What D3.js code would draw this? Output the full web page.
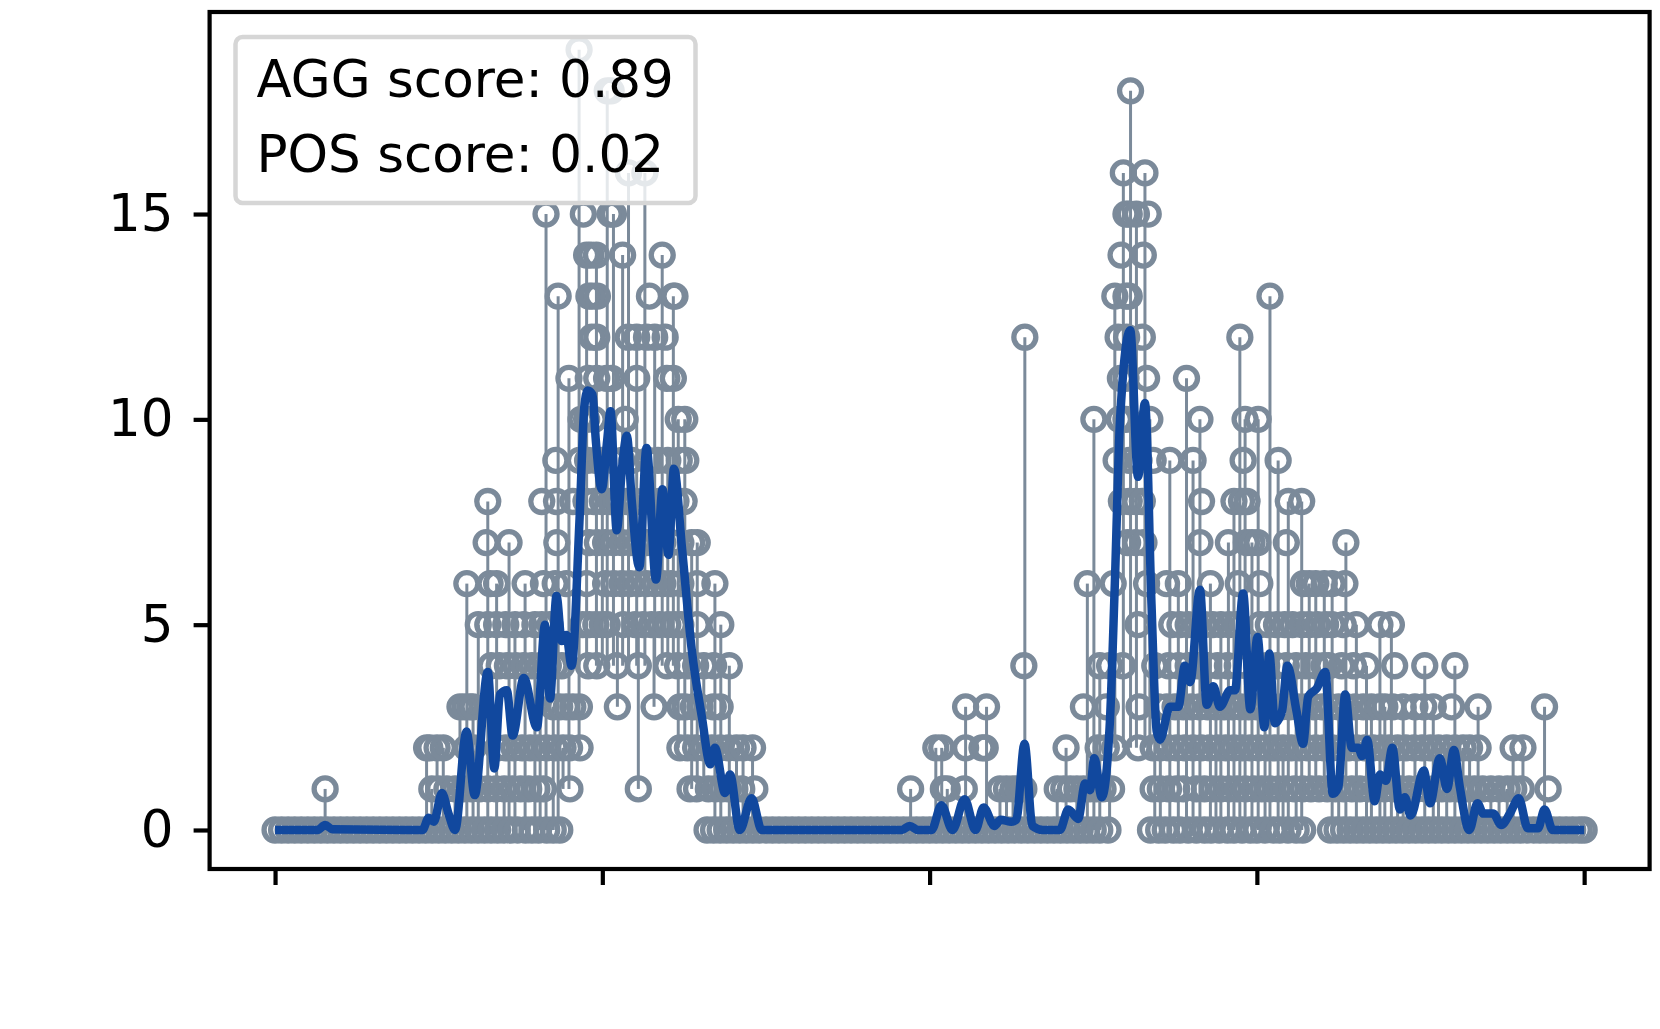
<!DOCTYPE html>
<html><head><meta charset="utf-8">
<script src="https://cdn.jsdelivr.net/npm/d3@7"></script>
<style>html,body{margin:0;padding:0;background:#fff}svg{display:block}</style>
</head><body><svg id="c" width="1660" height="1029"></svg>
<script>
const xTicks=[0,100,200,300,400];
const yTicks=[0,5,10,15];
const legendLines=["AGG score: 0.89","POS score: 0.02"];
// frames at which the count equals N
const count0=[0,2,4,6,8,10,12,14,16,18,20,22,24,26,28,30,32,34,36,38,40,42,44,46,48,50,52,54,56,58,60,62,64,66,68,70,72,74,76.5,78.5,80.5,83,85,87,
132,134,136,138,140,142,144,146,148,150,152,154,156,158,160,162,164,166,168,170,172,174,176,178,180,182,184,186,188,190,192,194,196,198,200,202,204,206,208,210,212,214,216,218,220,222,224,226,228,230,232,234,236,238,240,242,244,246,248,250,252,254.5,
267.5,270,272,274.5,276.5,279,281.5,284,286,288.5,291,293,295.5,298,300,302.5,305,307,309.5,312,314,
322.5,324.5,326.5,328.5,330.5,332.5,334.5,336.5,338.5,340.5,342.5,344.5,346.5,348.5,350.5,352.5,354.5,356.5,358.5,360.5,362.5,364.5,366.5,368.5,370.5,372.5,374.5,376.5,378.5,380.5,382.5,384.5,386.5,388.5,390.5,392.5,394.5,396.5,398.5,400];
const count1=[15.3,47.9,50,52.5,55,57.5,60,62.5,65,67.5,70,72.5,75,77.5,80,82,90.1,111,126.8,128.8,132.4,134.5,136.5,138.5,140.5,142.6,146.6,
194.2,204.2,205.4,210.6,221.5,223.5,225.5,227,228.8,
239,241,243,245,247,249,251,253,255.6,268.3,270.5,273,275.5,277.5,281.5,284,286.5,289,291.5,294,296.5,299,301.5,304,306.5,309,311.5,314,316.5,319,321.5,324,326.5,329,331.5,334,336.5,339,341.5,344,346.5,349,351.5,354,356.5,359,361.5,364,366.5,369,371.5,374,376.5,378.5,380.8,389];
const count2=[46.3,47.3,49.5,51.4,58.5,60.6,68,70.5,73,75.5,78,80.5,83,85.5,88,90,93.2,123.7,126,128.5,131,133.5,136,138.5,141,143,145.9,
201.9,203.7,211,216,217,241.7,
251.5,254,256.5,263.7,268.3,270.5,273,275.5,278,280.5,283,285.5,288,290.5,293,295.5,298,300.5,303,305.5,308,310.5,313,315.5,318,320.5,323,325.5,328,330.5,333,335.5,338,340.5,343,345.5,348,350.5,353,355.5,358,360.5,363,365,367.6,378.3,381.3];
const count3=[56.5,58,59.5,60.5,85,87,89,91,93,104.6,115.8,123.7,125.3,127.8,129.8,133.9,136,
211,217.4,247,254,264,269.9,272.5,275,277.5,280,282.5,285,287.5,290,292.5,295,297.5,300,302.5,305,307.5,310,312.5,315,317.5,320,322.5,325,327.5,330,332.5,335,337.5,339.1,341.5,344.7,348.3,351,353.9,359.5,367.6,387.9];
const count4=[66,68.5,71,73.5,76,78.5,81,83.5,85.5,87.6,95.7,98.3,104.4,111,119.7,123,126,128.5,131,134,138.8,
228.8,252,255,259,268.8,273,276,279,282,285,288,291,294,297,300,303,306,309,312,315,318,320.5,322,325.9,329.5,333.5,342.1,351.3,360.5];
const count5=[62.1,65,67.7,70.5,73.3,76,79.4,81.5,84,94,96,98,100,101.5,106.4,110,112.5,115,117.5,120,122,124,129,136.2,
263.7,274,276.5,279,281.5,284,286.5,289,291.5,293.8,301,303.5,306,308.5,310.9,313.8,316,318.5,321,323,326.4,330.4,337.6,341.1];
const count6=[58.6,65.7,67.7,76.4,82,85.6,89,95.2,101,103.5,106,108.5,111,113.5,116,118.5,121,124,129,134.4,
248.2,256.1,266.3,272.4,276,285.8,294.3,300.9,314.2,316,318,320.6,323,326.9];
const count7=[64.5,71.5,86.1,96,98.5,101,103.5,106,108.5,111,113.5,116,118.5,121,124,127.3,129,
260.5,263,265.5,282.6,291.3,296.8,298.5,300.3,309,327.2];
const count8=[65,81.5,86,91,95,97.5,100,102.5,105,107.5,110,112.5,115,117.5,120,122.5,125,
258.6,261,263,265,283.1,293,295.3,297,309.6,313.7];
const count9=[85.8,93,95.5,98,100,103,106,109,114,117,120,123.5,125.5,257,261,264,268.3,273.4,280.5,295.8,306.5];
const count10=[93.5,95.2,97.5,107,123.2,125.2,250.2,258,260,267.3,282.6,296.4,300.4];
const count11=[89.8,95.7,98.3,101.3,102.9,110.5,119.7,121.7,258.3,260,266.3,278.5];
const count12=[96.8,98.3,107.9,110.5,113.5,116,119.2,229.1,257.6,260.2,265,294.8];
const count13=[86.5,95.9,97,98.5,114.4,121.7,122.2,256.6,260,261,304];
const count14=[95.2,96.5,98.2,106.2,118.3,258.5,265.3];
const count15=[82.8,94.2,102.4,103.4,260,261,263.2,266.8];
const count16=[108,113,259.2,265.8];
const count18=[101.5,102.7,261.4];
const count19=[92.9];
const stemGroups=[[0,count0],[1,count1],[2,count2],[3,count3],[4,count4],[5,count5],[6,count6],[7,count7],[8,count8],[9,count9],[10,count10],[11,count11],[12,count12],[13,count13],[14,count14],[15,count15],[16,count16],[18,count18],[19,count19]];
// where the lowest count in a frame stays above zero: [from frame, to frame, lowest count]
const floorStart=[87.6,90.5,93.5,123,127,255.8,314.5];
const floorEnd=[90.5,93.5,123,127,132,267.4,322];
const floorCount=[1,2,4,2,1,2,1];
// isolated lower stems inside the raised stretch
const lowStemFrames=[104.6,111,115.8];
const lowStemBottoms=[3,1,3];
const lowStemTops=[5,5,5];
// smoothed curve
const lineFrames=[0,13,15.3,17.5,44,45,47,48.5,51,53,55,58.5,61,65,67,68.7,70.8,72.6,76,80,82.5,84,86,87.6,89,90.6,93,94.5,95.5,97,98,99.8,101.5,102.5,104.4,106,107.5,109,111.3,113.5,116.4,118.4,120.2,121.9,124.3,127.3,130.4,133,134.4,137.5,139,142,145.6,148.7,
191.5,193.9,196.5,200.6,203.6,207,210.7,214,216.5,219.8,221.7,225,226.5,229,231.4,234.6,239.8,242.4,245.4,247.5,249,250.3,252.6,255,256.6,258.2,261.3,263.7,265.8,267.8,269.4,270.4,273.4,276,278,279.6,282.6,284.7,286.7,288.7,291.8,293.3,295.8,298,300.2,302.3,303.8,305.5,307.7,309.3,312.1,314.1,315.7,318.3,320.9,323.2,324.9,327,329,331,332.2,333.7,336,337.6,339.4,341.4,343.7,345.2,347,351,352.9,355.9,358.1,360.2,362,364.9,367.4,369.2,372.2,374.7,377.3,380,382.8,385.9,387.9,390.4,400];
const lineValues=[0,0,0.12,0.02,0,0,0.3,0.2,0.9,0.4,0,2.4,0.85,3.85,1.5,3.3,3.4,2.3,3.7,2.5,5,3.2,5.7,4.6,4.75,4,7.5,10.3,10.7,10.6,9.5,8.3,9.5,10.2,7.3,8.8,9.6,8,6.4,9.3,6.1,8.3,6.7,8.8,6.9,4.4,2.76,1.6,2,0.9,1.35,0,0.77,0,
0,0.1,0,0,0.6,0,0.75,0,0.55,0.1,0.25,0.2,0.25,2.1,0.1,0,0,0.5,0.27,1.13,0.97,1.75,0.8,2.5,6,10,12.17,8.6,10.4,5.5,2.4,2.2,3,3,4,3.6,5.85,3.05,3.5,3,3.4,3.4,5.76,2.94,4.7,2.5,4.3,2.6,2.9,4,2.9,2.1,3.25,3.45,3.85,0.88,1.05,3.3,2,2,1.8,2.2,0.7,1.35,1.2,2,0.5,0.8,0.35,1.45,0.65,1.75,1,1.95,1.05,0,0.65,0.4,0.4,0.12,0.4,0.77,0.04,0.04,0.5,0,0];

const stemColor="#7b8a9a", lineColor="#11489e";
const svg=d3.select("#c");
const x=d3.scaleLinear().domain([-20,420]).range([209.6,1649.6]);
const y=d3.scaleLinear().domain([-0.95,19.92]).range([869,12]);
const pts=stemGroups.flatMap(([c,fs])=>fs.map(f=>({f,c})));
const floorAt=f=>{const i=floorStart.findIndex((s,k)=>f>=s&&f<floorEnd[k]);return i<0?0:floorCount[i];};
// tallest counts keep their own stem; a lower count next to a kept stem shares it
const kept=[];
pts.slice().sort((a,b)=>b.c-a.c).forEach(p=>{if(!kept.some(k=>Math.abs(k.f-p.f)<1.5))kept.push(p);});
const stems=kept.map(p=>({f:p.f,top:p.c,bottom:Math.min(p.c,floorAt(p.f))}))
 .concat(lowStemFrames.map((f,i)=>({f,top:lowStemTops[i],bottom:lowStemBottoms[i]})));
svg.append("g").selectAll("line").data(stems).join("line")
 .attr("x1",d=>x(d.f)).attr("x2",d=>x(d.f)).attr("y1",d=>y(d.bottom)).attr("y2",d=>y(d.top))
 .attr("stroke",stemColor).attr("stroke-width",3);
svg.append("g").selectAll("circle").data(pts).join("circle")
 .attr("cx",d=>x(d.f)).attr("cy",d=>y(d.c)).attr("r",11)
 .attr("fill","none").attr("stroke",stemColor).attr("stroke-width",5.3);
svg.append("path").datum(d3.zip(lineFrames,lineValues))
 .attr("d",d3.line().x(d=>x(d[0])).y(d=>y(d[1])).curve(d3.curveMonotoneX))
 .attr("fill","none").attr("stroke",lineColor).attr("stroke-width",8.5).attr("stroke-linejoin","round");
// frame
const font="'DejaVu Sans'";
const gx=svg.append("g").attr("transform","translate(0,869)").call(d3.axisBottom(x).tickValues(xTicks).tickSize(16).tickSizeOuter(0).tickFormat(""));
const gy=svg.append("g").attr("transform","translate(209.6,0)").call(d3.axisLeft(y).tickValues(yTicks).tickSize(16).tickSizeOuter(0).tickPadding(20));
[gx,gy].forEach(g=>{g.selectAll("line").attr("stroke","#000").attr("stroke-width",4.2);g.select(".domain").attr("stroke","none");});
gy.selectAll("text").attr("font-family",font).attr("font-size",51.5).attr("fill","#000");
svg.append("rect").attr("x",x.range()[0]).attr("y",12).attr("width",x.range()[1]-x.range()[0]).attr("height",857)
 .attr("fill","none").attr("stroke","#000").attr("stroke-width",4.2);
// legend
svg.append("rect").attr("x",235.5).attr("y",37).attr("width",460).attr("height",166).attr("rx",7)
 .attr("fill","#fff").attr("fill-opacity",0.8).attr("stroke","#d6d6d6").attr("stroke-width",4.5);
svg.append("g").selectAll("text").data(legendLines).join("text")
 .attr("x",256.5).attr("y",(d,i)=>96.7+i*75).text(d=>d)
 .attr("font-family",font).attr("font-size",51.5).attr("fill","#000");
</script></body></html>
